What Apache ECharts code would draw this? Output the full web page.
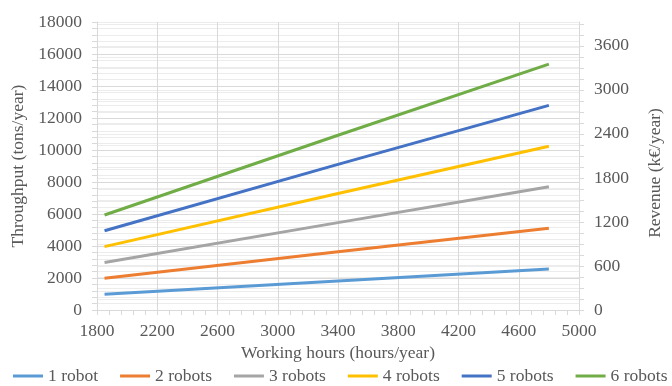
<!DOCTYPE html>
<html>
<head>
<meta charset="utf-8">
<script src="https://cdn.jsdelivr.net/npm/echarts@6/dist/echarts.min.js"></script>
<style>
  html, body { margin: 0; padding: 0; background: #fff; }
  #chart { width: 672px; height: 386px; }
</style>
</head>
<body>
<div id="chart"></div>
<script>
// Working hours sampled along each line (hours/year)
const hours = [1850, 3400, 4800];

// Throughput per fleet size (tons/year)
const robots1 = [990, 1820, 2560];
const robots2 = [1980, 3640, 5110];
const robots3 = [2970, 5460, 7700];
const robots4 = [3960, 7280, 10230];
const robots5 = [4950, 9100, 12790];
const robots6 = [5940, 10920, 15370];

const seriesNames = ['1 robot', '2 robots', '3 robots', '4 robots', '5 robots', '6 robots'];
const seriesValues = [robots1, robots2, robots3, robots4, robots5, robots6];
const colors = ['#5B9BD5', '#ED7D31', '#A5A5A5', '#FFC000', '#4472C4', '#70AD47'];

// Axis ranges
const xMin = 1800, xMax = 5000, xStep = 400;
const leftMax = 18000, leftStep = 2000;
const rightMax = 3925, rightStep = 600, rightMinor = 150;

const font = "'Liberation Serif', 'Times New Roman', serif";
const textColor = '#595959';
const gridColor = '#d9d9d9';
const minorColor = '#ececec';
const plain = v => String(v);

const chart = echarts.init(document.getElementById('chart'), null, { renderer: 'canvas' });

chart.setOption({
  animation: false,
  color: colors,
  grid: { left: 97, right: 82, top: 22, bottom: 76 },
  legend: {
    top: 367,
    left: 13,
    width: 800,
    padding: 0,
    icon: 'rect',
    itemWidth: 30,
    itemHeight: 3,
    itemGap: 22,
    textStyle: { fontFamily: font, fontSize: 17.5, color: textColor },
    data: seriesNames
  },
  xAxis: {
    type: 'value',
    min: xMin, max: xMax, interval: xStep,
    name: 'Working hours (hours/year)',
    nameLocation: 'middle',
    nameGap: 29,
    nameTextStyle: { fontFamily: font, fontSize: 17.5, color: textColor },
    axisLine: { show: true, lineStyle: { color: gridColor, width: 1 } },
    axisTick: { show: true, length: 5, lineStyle: { color: gridColor } },
    minorTick: { show: true, splitNumber: 5, length: 5, lineStyle: { color: gridColor } },
    splitLine: { show: true, lineStyle: { color: gridColor, width: 1 } },
    axisLabel: { fontFamily: font, fontSize: 17.5, color: textColor, margin: 12, formatter: plain }
  },
  yAxis: [
    {
      type: 'value',
      min: 0, max: leftMax, interval: leftStep,
      name: 'Throughput (tons/year)',
      nameLocation: 'middle',
      nameGap: 70,
      nameTextStyle: { fontFamily: font, fontSize: 17.5, color: textColor },
      axisLine: { show: true, lineStyle: { color: gridColor } },
      axisTick: { show: true, length: 5, lineStyle: { color: gridColor } },
      minorTick: { show: true, splitNumber: 5, length: 5, lineStyle: { color: gridColor } },
      splitLine: { show: true, lineStyle: { color: gridColor } },
      minorSplitLine: { show: true, lineStyle: { color: minorColor } },
      axisLabel: { fontFamily: font, fontSize: 17.5, color: textColor, margin: 15, formatter: plain }
    },
    {
      type: 'value',
      position: 'right',
      min: 0, max: rightMax, interval: rightMinor,
      name: 'Revenue (k€/year)',
      nameLocation: 'middle',
      nameGap: 67,
      nameTextStyle: { fontFamily: font, fontSize: 17.5, color: textColor, padding: [0, 14, 0, 0] },
      axisLine: { show: true, lineStyle: { color: gridColor } },
      axisTick: { show: true, length: 5, lineStyle: { color: gridColor } },
      splitLine: { show: true, lineStyle: { color: minorColor } },
      axisLabel: {
        fontFamily: font, fontSize: 17.5, color: textColor, margin: 15,
        showMaxLabel: false,
        formatter: v => (v % rightStep === 0 ? String(v) : '')
      }
    }
  ],
  series: seriesNames.map((name, i) => ({
    name,
    type: 'line',
    yAxisIndex: 0,
    symbol: 'none',
    lineStyle: { width: 3, color: colors[i] },
    itemStyle: { color: colors[i] },
    data: hours.map((h, j) => [h, seriesValues[i][j]])
  }))
});
</script>
</body>
</html>
